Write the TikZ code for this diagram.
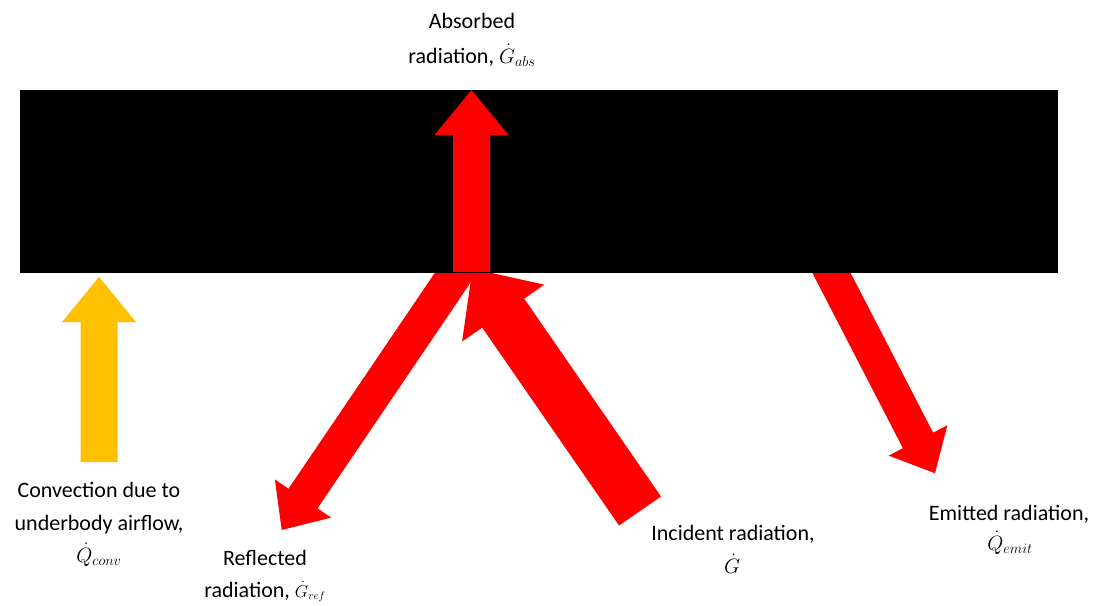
\documentclass[tikz,border=0pt]{standalone}
\usepackage{fontspec}
\setmainfont{Carlito}
\usetikzlibrary{calc}
\definecolor{arrred}{HTML}{FF0000}
\definecolor{arryel}{HTML}{FFC000}
% #1 tail, #2 tip, #3 half shaft width, #4 half head width, #5 head length, #6 fill style
\newcommand\fatarrow[6]{%
  \coordinate (fabase) at ($(#2)!#5!(#1)$);
  \fill[#6] ($(#1)!#3!90:(#2)$) -- ($(fabase)!#3!90:(#2)$) -- ($(fabase)!#4!90:(#2)$)
    -- (#2) -- ($(fabase)!#4!-90:(#2)$) -- ($(fabase)!#3!-90:(#2)$) -- ($(#1)!#3!-90:(#2)$) -- cycle;
}
\tikzset{
  lbl/.style={anchor=base, inner sep=0pt, font=\fontsize{22}{26}\selectfont},
  redfill/.style={fill=arrred},
  yelfill/.style={fill=arryel},
  plate/.style={fill=black}
}
\begin{document}
\begin{tikzpicture}[x=1pt,y=-1pt]
\useasboundingbox (0,0) rectangle (1099,605);
% arrow end points
\coordinate (refT) at (464,261);
\coordinate (refP) at (281.7,530);
\coordinate (incT) at (640,511);
\coordinate (incP) at (472.5,268.7);
\coordinate (emiT) at (822.5,255.5);
\coordinate (emiP) at (935,473.3);
\coordinate (absT) at (471.5,272);
\coordinate (absP) at (471.5,90);
\coordinate (conT) at (99,462);
\coordinate (conP) at (99,277);
% diagonal radiation arrows (beneath the plate)
\fatarrow{refT}{refP}{17.5pt}{34pt}{38pt}{redfill}
\fatarrow{incT}{incP}{25.5pt}{50pt}{54pt}{redfill}
\fatarrow{emiT}{emiP}{17pt}{33pt}{37pt}{redfill}
% plate
\node[plate, draw=none, inner sep=0pt, minimum width=1038pt, minimum height=183pt, anchor=north west] (plate) at (20,90) {};
% absorbed and convection arrows
\fatarrow{absT}{absP}{18.5pt}{37pt}{45pt}{redfill}
\fatarrow{conT}{conP}{18.5pt}{37pt}{45pt}{yelfill}
% labels
\node[lbl] (abs1) at (472,28) {Absorbed};
\node[lbl] (abs2) at (472,63) {radiation, $\dot{G}_{abs}$};
\node[lbl] (con1) at (99,497) {Convection due to};
\node[lbl] (con2) at (99,530) {underbody airflow,};
\node[lbl] (con3) at (99,562) {$\dot{Q}_{conv}$};
\node[lbl] (ref1) at (265,565) {Reflected};
\node[lbl] (ref2) at (265,597) {radiation, {\fontsize{16}{19}\selectfont$\dot{G}_{ref}$}};
\node[lbl] (inc1) at (733,540) {Incident radiation,};
\node[lbl] (inc2) at (732,573) {$\dot{G}$};
\node[lbl] (emi1) at (1009,520) {Emitted radiation,};
\node[lbl] (emi2) at (1010,550) {$\dot{Q}_{emit}$};
\end{tikzpicture}
\end{document}
